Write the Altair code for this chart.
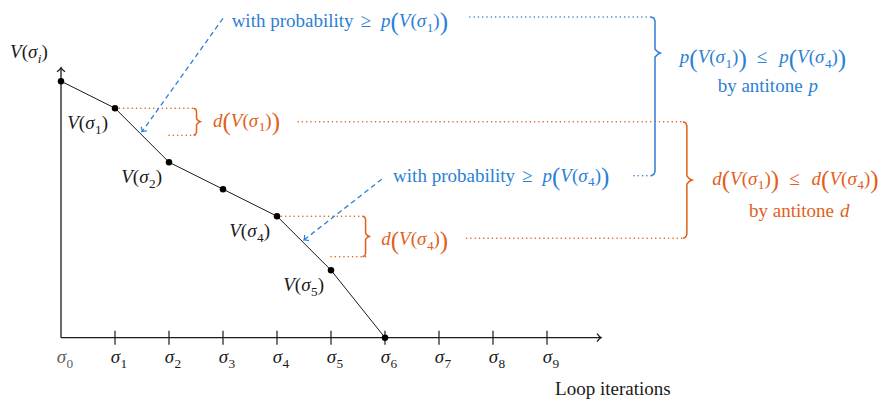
import math
import pandas as pd
import altair as alt

# ---------------- data ----------------
iterations = [0, 1, 2, 3, 4, 5, 6]
values = [9.5, 8.5, 6.5, 5.5, 4.5, 2.5, 0.0]
tick_iters = [0, 1, 2, 3, 4, 5, 6, 7, 8, 9]
tick_subs = ["0", "1", "2", "3", "4", "5", "6", "7", "8", "9"]
point_label_iters = [1, 2, 4, 5]
axis_len_x = 10
axis_len_y = 10

# ---------------- frame ----------------
W, H = 873, 391
UX, UY = 54.0, 27.0          # px per unit
OX, OY = 53.0, 329.7          # origin inside plot area (px)
XMIN, XMAX = -OX / UX, (W - OX) / UX
YMIN, YMAX = -(H - OY) / UY, OY / UY

BLUE = "#2c7fd6"
ORANGE = "#e2601c"
BLACK = "#1a1a1a"
FONT = "Liberation Serif"
FS = 19

XSC = alt.Scale(domain=[XMIN, XMAX], nice=False, zero=False)
YSC = alt.Scale(domain=[YMIN, YMAX], nice=False, zero=False)


def X(f="x"):
    return alt.X(f"{f}:Q", scale=XSC, axis=None)


def Y(f="y"):
    return alt.Y(f"{f}:Q", scale=YSC, axis=None)


def seg_layer(rows, **mk):
    df = pd.DataFrame(rows, columns=["x", "y", "x2", "y2"])
    return alt.Chart(df).mark_rule(**mk).encode(
        x=X(), y=Y(), x2=alt.X2("x2"), y2=alt.Y2("y2")
    )


# ---------------- axes ----------------
axes = seg_layer([(0, 0, axis_len_x, 0), (0, 0, 0, axis_len_y)],
                 color=BLACK, strokeWidth=1.3)
ticks = seg_layer([(i, -0.26, i, 0.26) for i in tick_iters[1:]],
                  color=BLACK, strokeWidth=1.2)

CHEVRON = "M -1 -1 Q -0.4 -0.2 0 0 Q -0.4 0.2 -1 1"


def heads(rows, color, size=64, sw=1.3):
    recs = []
    for (x1, y1, x2, y2) in rows:
        ang = math.degrees(math.atan2(-(y2 - y1) * UY, (x2 - x1) * UX)) % 360
        recs.append({"x": x2, "y": y2, "a": ang})
    df = pd.DataFrame(recs)
    return alt.Chart(df).mark_point(
        shape=CHEVRON, filled=False, color=color, size=size,
        strokeWidth=sw, opacity=1
    ).encode(x=X(), y=Y(), angle=alt.Angle("a:Q", scale=None))


axis_heads = heads([(0, 0, axis_len_x, 0), (0, 0, 0, axis_len_y)], BLACK)

# ---------------- curve ----------------
pts = pd.DataFrame({"x": iterations, "y": values})
curve = alt.Chart(pts).mark_line(color=BLACK, strokeWidth=1.0).encode(x=X(), y=Y())
dots = alt.Chart(pts).mark_circle(color="black", size=42, opacity=1).encode(x=X(), y=Y())

# ---------------- dotted / dashed guides ----------------
TOP = 11.88      # level of the upper blue guide
DOT = dict(strokeDash=[0.1, 4.2], strokeCap="round", strokeWidth=1.5)
orange_dots = seg_layer([
    (1, 8.5, 2.51, 8.5), (2.0, 7.5, 2.51, 7.5),
    (4, 4.5, 5.64, 4.5), (5.0, 3.0, 5.64, 3.0),
    (4.39, 8.0, 11.52, 8.0), (7.51, 3.68, 11.52, 3.68),
], color=ORANGE, **DOT)
blue_dots = seg_layer([
    (7.57, TOP, 10.93, TOP), (10.61, 6.0, 10.93, 6.0),
], color=BLUE, **DOT)

arrows = [(3.0, 11.83, 1.5, 7.63), (5.94, 5.87, 4.5, 3.62)]
blue_dash = seg_layer(arrows, color=BLUE, strokeDash=[5, 3.5], strokeWidth=1.3)
blue_heads = heads(arrows, BLUE, size=50, sw=1.2)


# ---------------- braces ----------------
def brace(bid, xv, ytop, ybot, xtip, ym=None, r=4.0):
    rx, ry = r / UX, r / UY
    if ym is None:
        ym = (ytop + ybot) / 2
    p = [
        (xv - rx, ytop), (xv - rx * 0.3, ytop - ry * 0.3), (xv, ytop - ry),
        (xv, ym + ry), (xv + (xtip - xv) * 0.5, ym + ry * 0.3), (xtip, ym),
        (xv + (xtip - xv) * 0.5, ym - ry * 0.3), (xv, ym - ry),
        (xv, ybot + ry), (xv - rx * 0.3, ybot + ry * 0.3), (xv - rx, ybot),
    ]
    return [{"b": bid, "o": i, "x": x, "y": y} for i, (x, y) in enumerate(p)]


def brace_layer(recs, color):
    return alt.Chart(pd.DataFrame(recs)).mark_line(color=color, strokeWidth=1.5).encode(
        x=X(), y=Y(), detail="b:N", order="o:Q"
    )


orange_braces = brace_layer(
    brace("o1", 2.51, 8.5, 7.5, 2.58, r=3) + brace("o4", 5.64, 4.5, 3.0, 5.71, r=3)
    + brace("ob", 11.59, 8.0, 3.68, 11.69), ORANGE)
blue_brace = brace_layer(brace("pb", 11.0, TOP, 6.0, 11.1, ym=10.54), BLUE)

# ---------------- typesetting helpers ----------------
REG = {" ": .25, "(": .333, ")": .333, "a": .444, "b": .5, "d": .5, "e": .444,
       "h": .5, "i": .278, "l": .278, "n": .5, "o": .5, "p": .5, "r": .333,
       "s": .389, "t": .278, "w": .722, "y": .5, "L": .611, "≥": .549, "≤": .549}
ITA = {" ": .25, "V": .611, "p": .5, "d": .5, "σ": .52, "i": .278}
KIND = {  # style, size factor, baseline shift (px, down)
    "r": ("normal", 1.0, 0.0),
    "i": ("italic", 1.0, 0.0),
    "sub": ("normal", 0.7, 4.5),
    "subi": ("italic", 0.7, 4.5),
    "big": ("normal", 1.32, 3.2),
}


def run_width(text, kind):
    style, f, _ = KIND[kind]
    tab = ITA if style == "italic" else REG
    return sum(tab.get(ch, .5) for ch in text) * FS * f


def typeset(runs, x, y, align, color):
    widths = [r[1] if r[0] == "gap" else run_width(r[0], r[1]) for r in runs]
    total = sum(widths)
    start = {"left": 0.0, "center": -total / 2, "right": -total}[align]
    rows, cur = [], start
    for r, w in zip(runs, widths):
        if r[0] != "gap":
            style, f, shift = KIND[r[1]]
            rows.append({"x": x + cur / UX, "y": y - shift / UY, "t": r[0],
                         "s": FS * f, "st": style, "c": color})
        cur += w
    return rows


def V(k, sub="sub"):
    return [("V", "i"), ("(", "r"), ("σ", "i"), (k, sub), (")", "r")]


def fn(name, k):
    return [(name, "i"), ("(", "big")] + V(k) + [(")", "big")]


rows = []
# axis labels
for i, k in zip(tick_iters, tick_subs):
    rows += typeset([("σ", "i"), (k, "sub")], i + 4 / UX, -0.95, "center",
                    "#606060" if i == 0 else BLACK)
# point labels
for i in point_label_iters:
    rows += typeset(V(str(i)), i - 7 / UX, values[i] - 21 / UY, "right", BLACK)
# y label
rows += typeset(V("i", "subi"), -0.593, 10.35, "center", BLACK)
# x label
rows += typeset([("Loop iterations", "r")], 9.15, -2.12, "left", BLACK)
# orange d-labels
rows += typeset(fn("d", "1"), 2.815, 7.81, "left", ORANGE)
rows += typeset(fn("d", "4"), 5.93, 3.42, "left", ORANGE)
# blue probability texts
rows += typeset([("with probability", "r"), ("gap", 7), ("≥", "r"), ("gap", 10)] + fn("p", "1"),
                3.16, 11.5, "left", BLUE)
rows += typeset([("with probability", "r"), ("gap", 7), ("≥", "r"), ("gap", 10)] + fn("p", "4"),
                6.15, 5.78, "left", BLUE)
# right-hand conclusions
rows += typeset(fn("p", "1") + [("gap", 10), ("≤", "r"), ("gap", 12)] + fn("p", "4"),
                13.0, 10.16, "center", BLUE)
rows += typeset([("by antitone", "r"), ("gap", 6), ("p", "i")], 13.09, 9.11, "center", BLUE)
rows += typeset(fn("d", "1") + [("gap", 10), ("≤", "r"), ("gap", 12)] + fn("d", "4"),
                13.6, 5.66, "center", ORANGE)
rows += typeset([("by antitone", "r"), ("gap", 6), ("d", "i")], 13.67, 4.48, "center", ORANGE)

tdf = pd.DataFrame(rows)


def text_layer(style):
    return alt.Chart(tdf[tdf["st"] == style]).mark_text(
        align="left", baseline="alphabetic", font=FONT, fontStyle=style
    ).encode(
        x=X(), y=Y(), text="t:N",
        size=alt.Size("s:Q", scale=None),
        color=alt.Color("c:N", scale=None),
    )


chart = alt.layer(
    orange_dots, blue_dots, blue_dash, blue_heads, orange_braces, blue_brace,
    axes, ticks, axis_heads, curve, dots, text_layer("normal"), text_layer("italic")
).properties(
    width=W, height=H, autosize=alt.AutoSizeParams(type="none"), padding=0
).configure_view(stroke=None)

chart.save("out.html", embed_options={"renderer": "svg", "actions": False})
